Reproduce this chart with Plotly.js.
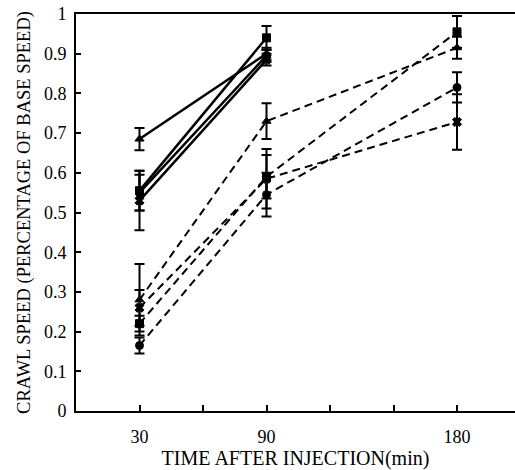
<!DOCTYPE html>
<html><head><meta charset="utf-8">
<script src="https://cdn.plot.ly/plotly-3.0.1.min.js"></script>
<style>html,body{margin:0;padding:0;background:#fff;}#chart{width:515px;height:470px;}</style>
</head><body><div id="chart"></div>
<script>
// Time points (min)
var timesShort = [30, 90];
var timesLong = [30, 90, 180];
var xTickVals = [30, 60, 90, 120, 150, 180];
var xTickText = ['30', '', '90', '', '', '180'];
var yTickVals = [0, 0.1, 0.2, 0.3, 0.4, 0.5, 0.6, 0.7, 0.8, 0.9, 1];
var yTickText = ['0', '0.1', '0.2', '0.3', '0.4', '0.5', '0.6', '0.7', '0.8', '0.9', '1'];

// Solid series (30, 90 min)
var solidTriangle = [0.685, 0.900];
var solidTriangleErr = [0.028, 0.015];
var solidSquare = [0.555, 0.940];
var solidSquareErr = [0.050, 0.030];
var solidCircle = [0.550, 0.895];
var solidCircleErr = [0.045, 0.015];
var solidX = [0.530, 0.885];
var solidXErr = [0.075, 0.015];

// Dashed series (30, 90, 180 min)
var dashTriangle = [0.280, 0.730, 0.915];
var dashTriangleErr = [0.090, 0.045, 0.028];
var dashSquare = [0.220, 0.590, 0.955];
var dashSquareErr = [0.020, 0.055, 0.040];
var dashCircle = [0.165, 0.545, 0.815];
var dashCircleErr = [0.020, 0.055, 0.038];
var dashX = [0.260, 0.585, 0.728];
var dashXErr = [0.045, 0.075, 0.070];

function tr(x, y, e, sym, dash, lw) {
  return {
    x: x, y: y, type: 'scatter', mode: 'lines+markers',
    line: {color: '#000', width: lw, dash: dash},
    marker: {color: '#000', size: 8, symbol: sym, line: {color: '#000', width: 1}},
    error_y: {type: 'data', array: e, visible: true, color: '#000', thickness: 2, width: 5},
    showlegend: false, cliponaxis: false
  };
}

var data = [
  tr(timesLong, dashTriangle, dashTriangleErr, 'triangle-up', '8px,5px', 2),
  tr(timesLong, dashSquare, dashSquareErr, 'square', '8px,5px', 2),
  tr(timesLong, dashCircle, dashCircleErr, 'circle', '8px,5px', 2),
  tr(timesLong, dashX, dashXErr, 'x', '8px,5px', 2),
  tr(timesShort, solidTriangle, solidTriangleErr, 'triangle-up', 'solid', 2.5),
  tr(timesShort, solidSquare, solidSquareErr, 'square', 'solid', 2.5),
  tr(timesShort, solidCircle, solidCircleErr, 'circle', 'solid', 2.5),
  tr(timesShort, solidX, solidXErr, 'x', 'solid', 2.5)
];

var fam = 'Liberation Serif, Times New Roman, serif';
var tickFont = {family: fam, color: '#000', size: 18};
var xTitleFont = {family: fam, color: '#000', size: 20};
var yTitleFont = {family: fam, color: '#000', size: 18.5};

var layout = {
  width: 515, height: 470,
  margin: {l: 76, r: 0, t: 14, b: 59},
  paper_bgcolor: '#fff', plot_bgcolor: '#fff',
  font: tickFont,
  xaxis: {
    range: [0, 207.4], showgrid: false, zeroline: false,
    showline: true, linecolor: '#000', linewidth: 2, mirror: true,
    ticks: 'inside', ticklen: 6, tickwidth: 2, tickcolor: '#000',
    tickvals: xTickVals, ticktext: xTickText,
    tickfont: tickFont, ticklabelstandoff: 8,
    title: {text: 'TIME AFTER INJECTION(min)', font: xTitleFont, standoff: 0}
  },
  yaxis: {
    range: [0, 1], showgrid: false, zeroline: false,
    showline: true, linecolor: '#000', linewidth: 2,
    ticks: 'inside', ticklen: 5, tickwidth: 2, tickcolor: '#000',
    tickvals: yTickVals, ticktext: yTickText,
    tickfont: tickFont, ticklabelstandoff: 4,
    title: {text: 'CRAWL SPEED (PERCENTAGE OF BASE SPEED)', font: yTitleFont, standoff: 8}
  }
};

Plotly.newPlot('chart', data, layout, {staticPlot: true, displayModeBar: false});
</script></body></html>
